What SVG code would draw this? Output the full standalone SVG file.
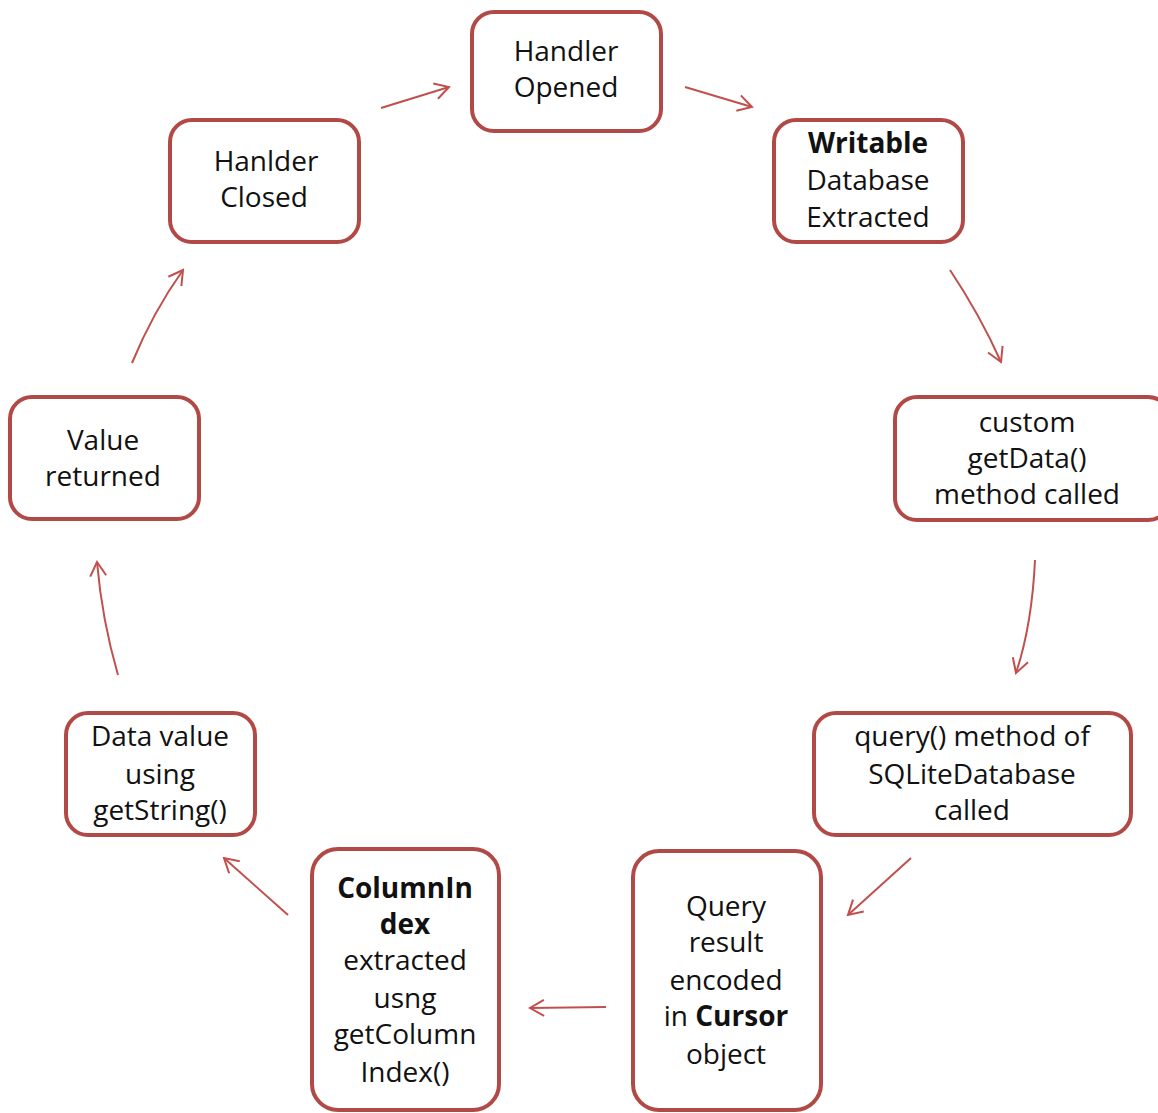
<svg xmlns="http://www.w3.org/2000/svg" width="1158" height="1113" viewBox="0 0 1158 1113">
<defs>
<style>
.box{fill:#fff;stroke:#b14a47;stroke-width:4}
.t{font-family:"Open Sans","Liberation Sans",sans-serif;font-size:28px;fill:#111;text-anchor:middle}
.b{font-weight:bold}
.c{fill:none;stroke:#c0504d;stroke-width:2;marker-end:url(#ah)}
</style>
<marker id="ah" markerUnits="userSpaceOnUse" markerWidth="20" markerHeight="20" viewBox="0 0 20 20" refX="18" refY="10" orient="auto">
<path d="M4,2 L18,10 L4,18" fill="none" stroke="#c0504d" stroke-width="2"/>
</marker>
</defs>
<rect width="1158" height="1113" fill="#fff"/>
<g id="connectors">
<path class="c" d="M381,108 L449,87"/>
<path class="c" d="M685,87 L752,107"/>
<path class="c" d="M950,270 Q980,315 1001,362"/>
<path class="c" d="M1035,560 Q1032,625 1016,673"/>
<path class="c" d="M911,858 L848,915"/>
<path class="c" d="M606,1007 L530,1008"/>
<path class="c" d="M288,915 L224,858"/>
<path class="c" d="M118,675 Q102,620 97,562"/>
<path class="c" d="M132,363 Q153,312 183,270"/>
</g>
<g id="handler-opened">
<rect class="box" x="472" y="12" width="189" height="119" rx="22"/>
<text class="t" x="566" y="61">Handler</text>
<text class="t" x="566" y="97">Opened</text>
</g>
<g id="writable-db">
<rect class="box" x="774" y="120" width="189" height="122" rx="22"/>
<text class="t b" x="868" y="153">Writable</text>
<text class="t" x="868" y="190">Database</text>
<text class="t" x="868" y="227">Extracted</text>
</g>
<g id="custom-getdata">
<rect class="box" x="895" y="397" width="275" height="123" rx="22"/>
<text class="t" x="1027" y="432">custom</text>
<text class="t" x="1027" y="468">getData()</text>
<text class="t" x="1027" y="504">method called</text>
</g>
<g id="query-method">
<rect class="box" x="814" y="713" width="317" height="122" rx="22"/>
<text class="t" x="972" y="746">query() method of</text>
<text class="t" x="972" y="784">SQLiteDatabase</text>
<text class="t" x="972" y="820">called</text>
</g>
<g id="query-result">
<rect class="box" x="633" y="851" width="188" height="259" rx="26"/>
<text class="t" x="726" y="916">Query</text>
<text class="t" x="726" y="952">result</text>
<text class="t" x="726" y="990">encoded</text>
<text class="t" x="726" y="1026">in <tspan class="b">Cursor</tspan></text>
<text class="t" x="726" y="1064">object</text>
</g>
<g id="column-index">
<rect class="box" x="312" y="849" width="187" height="261" rx="26"/>
<text class="t b" x="405" y="898">ColumnIn</text>
<text class="t b" x="405" y="934">dex</text>
<text class="t" x="405" y="970">extracted</text>
<text class="t" x="405" y="1008">usng</text>
<text class="t" x="405" y="1044">getColumn</text>
<text class="t" x="405" y="1082">Index()</text>
</g>
<g id="data-value">
<rect class="box" x="66" y="713" width="189" height="122" rx="22"/>
<text class="t" x="160" y="746">Data value</text>
<text class="t" x="160" y="784">using</text>
<text class="t" x="160" y="820">getString()</text>
</g>
<g id="value-returned">
<rect class="box" x="10" y="397" width="189" height="122" rx="22"/>
<text class="t" x="103" y="450">Value</text>
<text class="t" x="103" y="486">returned</text>
</g>
<g id="handler-closed">
<rect class="box" x="170" y="120" width="189" height="122" rx="22"/>
<text class="t" x="266" y="171">Hanlder</text>
<text class="t" x="264" y="207">Closed</text>
</g>
</svg>
